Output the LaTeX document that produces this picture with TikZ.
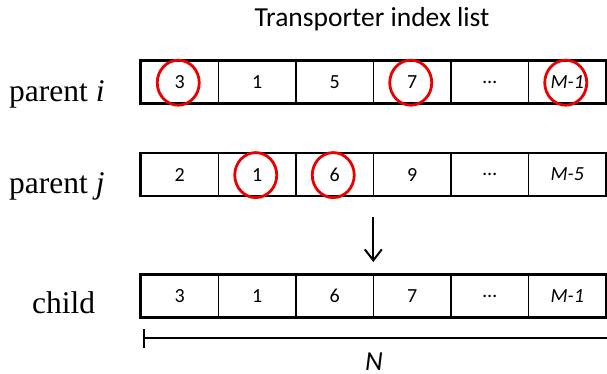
\documentclass[tikz,border=0pt]{standalone}
\usepackage{fontspec}
\setmainfont{Liberation Serif}
\newfontfamily\calfont{Carlito}
\usetikzlibrary{arrows.meta}
\tikzset{
  cellbox/.style={draw, line width=1.5pt, minimum width=77.5pt, minimum height=42pt, inner sep=0pt, font=\calfont\fontsize{20}{23}\selectfont},
  rowframe/.style={draw, line width=2.2pt},
  rowlabel/.style={anchor=base west, inner sep=0pt, font=\fontsize{31.5}{36}\selectfont},
  ring/.style={draw=red!92!black, line width=2.8pt},
  bigsans/.style={inner sep=0pt, anchor=base, font=\calfont\fontsize{27.5}{32}\selectfont},
  flow/.style={line width=2pt, -{Straight Barb[length=11pt,width=17pt,line width=2pt]}},
  span/.style={line width=1.8pt, {Bar[width=19pt,line width=1.8pt]}-}
}
\begin{document}
\begin{tikzpicture}[x=1pt,y=-1pt]
\useasboundingbox (0,0) rectangle (607,374);
\fill[white] (0,0) rectangle (607,374);
\node[bigsans] (title) at (372,27) {Transporter index list};
% rows
\foreach \r/\yy/\vals in {1/82.2/{3,1,5,7,\dots,\textit{M-1}}, 2/174.6/{2,1,6,9,\dots,\textit{M-5}}, 3/296.2/{3,1,6,7,\dots,\textit{M-1}}}{
  \foreach \v [count=\c] in \vals {
    \node[cellbox] (r\r c\c) at ({141+77.5*(\c-0.5)},\yy) {\v};
  }
  \draw[rowframe] (r\r c1.north west) rectangle (r\r c6.south east);
}
\node[rowlabel] (li) at (9,101.7) {parent \textit{i}};
\node[rowlabel] (lj) at (9,193.5) {parent \textit{j}};
\node[rowlabel] (lc) at (32,313.3) {child};
% rings
\foreach \n in {r1c1,r1c4,r1c6,r2c2,r2c3}{
  \draw[ring] ([xshift=-1.5pt,yshift=-0.5pt]\n.center) ellipse [x radius=21pt, y radius=22.5pt];
}
% arrow
\coordinate (a0) at (373.3,217);
\coordinate (a1) at (373.3,262);
\draw[flow] (a0) -- (a1);
% span N
\coordinate (s0) at (142.7,338.3);
\coordinate (s1) at (607,338.3);
\draw[span] (s0) -- (s1);
\node[bigsans, font=\calfont\itshape\fontsize{27.5}{32}\selectfont] (N) at (374,370) {N};
\end{tikzpicture}
\end{document}
